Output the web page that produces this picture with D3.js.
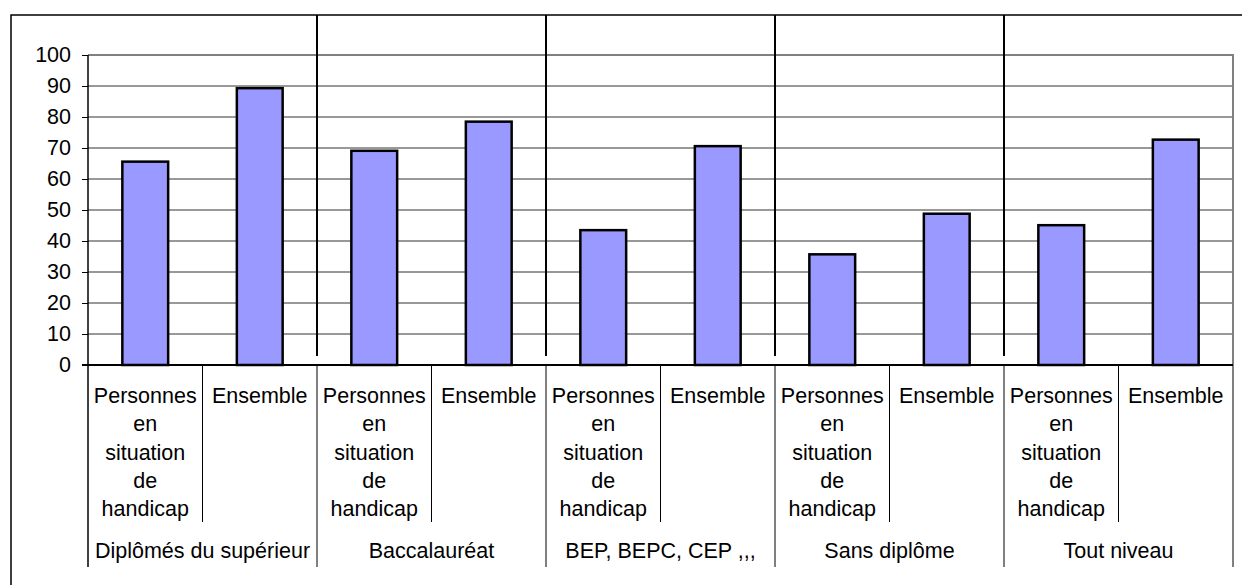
<!DOCTYPE html>
<html>
<head>
<meta charset="utf-8">
<script src="https://cdn.jsdelivr.net/npm/d3@7"></script>
<style>
  html, body { margin: 0; padding: 0; background: #fff; }
  svg { display: block; font-family: "Liberation Sans", Arial, sans-serif; }
</style>
</head>
<body>
<svg id="chart" width="1242" height="585"></svg>
<script>
const groups = ["Diplômés du supérieur", "Baccalauréat", "BEP, BEPC, CEP ,,,", "Sans diplôme", "Tout niveau"];
const subCategories = ["Personnes en situation de handicap", "Ensemble"];
const handicapValues = [65.6, 69.1, 43.5, 35.7, 45.1];
const ensembleValues = [89.3, 78.5, 70.6, 48.8, 72.7];
const yTicks = [0, 10, 20, 30, 40, 50, 60, 70, 80, 90, 100];

const rows = [];
groups.forEach((g, i) => {
  rows.push({ key: g + "|0", group: g, sub: subCategories[0], value: handicapValues[i] });
  rows.push({ key: g + "|1", group: g, sub: subCategories[1], value: ensembleValues[i] });
});

const svg = d3.select("#chart");
const L = 88, R = 1233, T = 55, B = 365;
const fontSize = 21.5;

const x = d3.scaleBand().domain(rows.map(d => d.key)).range([L, R]).padding(0);
const xg = d3.scaleBand().domain(groups).range([L, R]).padding(0);
const y = d3.scaleLinear().domain([0, 100]).range([B, T]);

// outer frame (extends beyond the picture to the right and bottom)
svg.append("rect").attr("x", 11).attr("y", 15).attr("width", 1300).attr("height", 700)
  .attr("fill", "none").attr("stroke", "#000").attr("stroke-width", 1.5);

// gridlines
svg.append("g").selectAll("line").data(yTicks.filter(t => t > 0 && t < 100)).join("line")
  .attr("x1", L).attr("x2", R).attr("y1", d => y(d)).attr("y2", d => y(d))
  .attr("stroke", "#333").attr("stroke-width", 1);

// plot area border (gray top & right)
svg.append("path")
  .attr("d", `M${L},${y(100)}H${R}V${B}`)
  .attr("fill", "none").attr("stroke", "#808080").attr("stroke-width", 2);

// group separators inside plot (extend to frame top)
svg.append("g").selectAll("line").data(groups.slice(1)).join("line")
  .attr("x1", d => xg(d)).attr("x2", d => xg(d)).attr("y1", 15).attr("y2", 356)
  .attr("stroke", "#000").attr("stroke-width", 2);

// bars
const bw = x.bandwidth() * 0.4;
svg.append("g").selectAll("rect").data(rows).join("rect")
  .attr("x", d => x(d.key) + (x.bandwidth() - bw) / 2)
  .attr("y", d => y(d.value))
  .attr("width", bw)
  .attr("height", d => y(0) - y(d.value))
  .attr("fill", "#9999FF").attr("stroke", "#000").attr("stroke-width", 2.5);

// y axis
const yAxis = d3.axisLeft(y).tickValues(yTicks).tickSize(6).tickPadding(11);
const ya = svg.append("g").attr("transform", `translate(${L},0)`).call(yAxis);
ya.select(".domain").remove();
ya.selectAll(".tick line").attr("stroke", "#000").attr("stroke-width", 1);
ya.selectAll(".tick text").attr("font-size", fontSize).attr("fill", "#000")
  .attr("font-family", "Liberation Sans, Arial, sans-serif");
svg.append("line").attr("x1", L).attr("x2", L).attr("y1", T).attr("y2", 567)
  .attr("stroke", "#000").attr("stroke-width", 1.5);

// x axis line
svg.append("line").attr("x1", L - 6).attr("x2", R).attr("y1", B).attr("y2", B)
  .attr("stroke", "#000").attr("stroke-width", 2);

// category separators below axis
svg.append("g").selectAll("line").data(rows.filter((d, i) => i % 2 === 1)).join("line")
  .attr("x1", d => x(d.key)).attr("x2", d => x(d.key)).attr("y1", B).attr("y2", 522)
  .attr("stroke", "#000").attr("stroke-width", 1);
svg.append("g").selectAll("line").data(groups.slice(1)).join("line")
  .attr("x1", d => xg(d)).attr("x2", d => xg(d)).attr("y1", B).attr("y2", 567)
  .attr("stroke", "#000").attr("stroke-width", 1);
svg.append("line").attr("x1", R).attr("x2", R).attr("y1", B).attr("y2", 567)
  .attr("stroke", "#000").attr("stroke-width", 1);

// sub-category labels
const lineH = 28.3;
const subText = svg.append("g").selectAll("text").data(rows).join("text")
  .attr("x", d => x(d.key) + x.bandwidth() / 2)
  .attr("y", 403)
  .attr("text-anchor", "middle").attr("font-size", fontSize).attr("fill", "#000");
subText.each(function(d) {
  const words = d.sub.split(" ");
  const t = d3.select(this);
  words.forEach((w, i) => {
    t.append("tspan").attr("x", x(d.key) + x.bandwidth() / 2).attr("y", 403 + i * lineH).text(w);
  });
});

// group labels
svg.append("g").selectAll("text").data(groups).join("text")
  .attr("x", d => xg(d) + xg.bandwidth() / 2)
  .attr("y", 558)
  .attr("text-anchor", "middle").attr("font-size", fontSize).attr("fill", "#000")
  .text(d => d);
</script>
</body>
</html>
